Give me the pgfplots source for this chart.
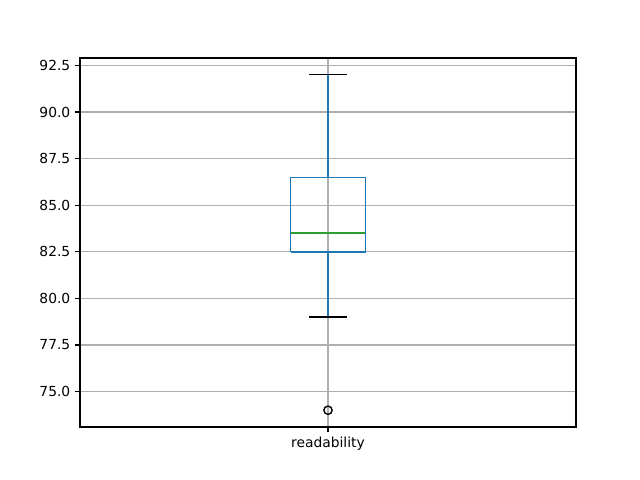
\documentclass[border=0pt]{standalone}
\usepackage{fontspec}
\setmainfont{DejaVu Sans}
\usepackage{pgfplots}
\pgfplotsset{compat=1.18}
\definecolor{c0}{HTML}{1F77B4}
\definecolor{c2}{HTML}{2CA02C}
\definecolor{gridc}{HTML}{B0B0B0}

\begin{document}
\begin{tikzpicture}
\begin{axis}[
  name=ax,
  scale only axis,
  width=4.96in, height=3.69in,
  xmin=0.5, xmax=1.5,
  ymin=73.1, ymax=92.9,
  xtick={1}, xticklabels={readability},
  ytick={75,77.5,80,82.5,85,87.5,90,92.5},
  yticklabel style={/pgf/number format/fixed, /pgf/number format/precision=1, /pgf/number format/fixed zerofill},
  /pgf/number format/assume math mode=true,
  tick label style={font=\fontsize{10}{12}\selectfont},
  grid=major,
  grid style={gridc, line width=0.8pt},
  axis line style={line width=0.8pt},
  tick style={black, line width=0.8pt},
  tick align=outside,
  major tick length=3.5pt,
  xtick pos=bottom, ytick pos=left,
  axis on top=false,
]
% box (q1 = 82.5, q3 = 86.5)
\addplot[c0, line width=1pt] coordinates {
  (0.925,82.5) (1.075,82.5) (1.075,86.5) (0.925,86.5) (0.925,82.5)
};
% whiskers
\addplot[c0, line width=1pt] coordinates {(1,82.5) (1,79)};
\addplot[c0, line width=1pt] coordinates {(1,86.5) (1,92)};
% caps
\addplot[black, line width=1pt] coordinates {(0.9625,79) (1.0375,79)};
\addplot[black, line width=1pt] coordinates {(0.9625,92) (1.0375,92)};
% median
\addplot[c2, line width=1pt] coordinates {(0.925,83.5) (1.075,83.5)};
% outlier
\addplot[only marks, mark=o, mark size=3pt, black, line width=1pt] coordinates {(1,74)};
\end{axis}
\path[use as bounding box] ([shift={(-0.8in,-0.53in)}]ax.south west) rectangle ([shift={(5.6in,4.27in)}]ax.south west);
\end{tikzpicture}
\end{document}
